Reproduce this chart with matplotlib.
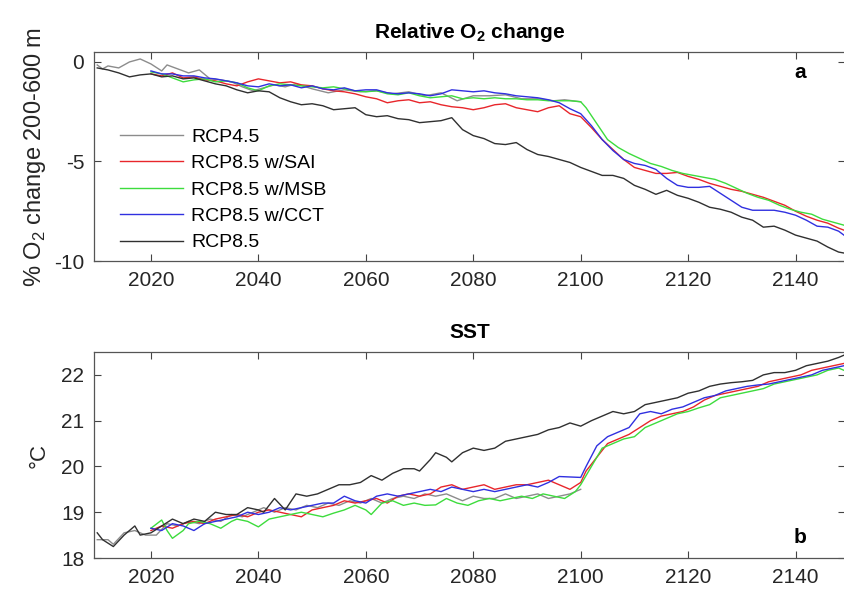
import matplotlib
matplotlib.use('Agg')
import matplotlib.pyplot as plt

plt.rcParams['font.family'] = ['Liberation Sans', 'DejaVu Sans']
plt.rcParams['mathtext.fontset'] = 'custom'
plt.rcParams['mathtext.rm'] = 'Liberation Sans'
plt.rcParams['mathtext.bf'] = 'Liberation Sans:bold'
plt.rcParams['axes.unicode_minus'] = False

# ---- panel a: relative O2 change (%) ----
yr45_o2 = [2010, 2011, 2012, 2014, 2016, 2018, 2020, 2022, 2023, 2025, 2027, 2029, 2031, 2033, 2035, 2037,
           2039, 2041, 2043, 2045, 2047, 2050, 2053, 2056, 2059, 2062, 2065, 2068, 2071, 2074, 2077, 2080,
           2083, 2086, 2089, 2092, 2095, 2097, 2100]
o2_45 = [-0.15, -0.35, -0.2, -0.3, 0.0, 0.15, -0.1, -0.45, -0.15, -0.35, -0.55, -0.4, -0.85, -0.9, -1.0, -1.25,
         -1.45, -1.3, -1.15, -1.25, -1.1, -1.35, -1.55, -1.4, -1.5, -1.45, -1.6, -1.5, -1.7, -1.55, -1.95, -1.7,
         -1.7, -1.65, -1.85, -1.85, -1.95, -1.9, -2.0]

yr85_o2 = [2010, 2012, 2014, 2016, 2018, 2020, 2022, 2024, 2026, 2028, 2030, 2032, 2034, 2036, 2038, 2040,
           2042, 2044, 2046, 2048, 2050, 2052, 2054, 2056, 2058, 2060, 2062, 2064, 2066, 2068, 2070, 2072,
           2074, 2076, 2078, 2080, 2082, 2084, 2086, 2088, 2090, 2092, 2094, 2096, 2098, 2100, 2102, 2104,
           2106, 2108, 2110, 2112, 2114, 2116, 2118, 2120, 2122, 2124, 2126, 2128, 2130, 2132, 2134, 2136,
           2138, 2140, 2142, 2144, 2146, 2148, 2149]
o2_85 = [-0.3, -0.4, -0.55, -0.75, -0.65, -0.6, -0.75, -0.7, -0.85, -0.8, -0.95, -1.1, -1.2, -1.4, -1.55, -1.45,
         -1.5, -1.8, -2.0, -2.15, -2.1, -2.2, -2.4, -2.35, -2.3, -2.65, -2.75, -2.7, -2.85, -2.9, -3.05, -3.0,
         -2.95, -2.8, -3.4, -3.7, -3.85, -4.1, -4.15, -4.05, -4.4, -4.65, -4.75, -4.9, -5.05, -5.3, -5.5, -5.7,
         -5.7, -5.85, -6.2, -6.4, -6.65, -6.45, -6.7, -6.85, -7.05, -7.3, -7.4, -7.55, -7.8, -7.95, -8.3, -8.25,
         -8.45, -8.7, -8.85, -9.0, -9.3, -9.55, -9.6]

yr_sai_o2 = list(range(2020, 2101, 2)) + list(range(2102, 2149, 2)) + [2149]
o2_sai = [-0.6, -0.7, -0.55, -0.8, -0.75, -0.9, -0.95, -1.1, -1.2, -1.0, -0.85, -0.95, -1.05, -1.0, -1.15, -1.2,
          -1.35, -1.45, -1.5, -1.6, -1.75, -1.85, -2.05, -1.95, -1.9, -2.05, -2.0, -2.15, -2.25, -2.3, -2.4, -2.3,
          -2.15, -2.1, -2.3, -2.4, -2.5, -2.3, -2.2, -2.6, -2.75,
          -3.3, -3.9, -4.4, -4.9, -5.3, -5.45, -5.6, -5.6, -5.55, -5.75, -5.9, -6.1, -6.25, -6.4, -6.5, -6.65,
          -6.8, -7.0, -7.2, -7.5, -7.75, -7.95, -8.1, -8.35, -8.45]

yr_msb_o2 = list(range(2020, 2101, 2)) + list(range(2101, 2150, 2))
o2_msb = [-0.5, -0.6, -0.8, -1.0, -0.9, -0.85, -1.0, -0.95, -1.05, -1.3, -1.45, -1.2, -1.1, -1.15, -1.2, -1.25,
          -1.3, -1.25, -1.35, -1.45, -1.5, -1.45, -1.6, -1.65, -1.55, -1.7, -1.8, -1.75, -1.7, -1.85, -1.8, -1.85,
          -1.8, -1.85, -1.85, -1.9, -1.9, -1.95, -1.95, -1.95, -2.0,
          -2.3, -3.1, -3.9, -4.3, -4.6, -4.85, -5.1, -5.25, -5.45, -5.6, -5.7, -5.8, -5.9, -6.1, -6.35, -6.6,
          -6.8, -6.95, -7.2, -7.4, -7.55, -7.65, -7.9, -8.05, -8.2]

yr_cct_o2 = list(range(2020, 2149, 2)) + [2149]
o2_cct = [-0.45, -0.6, -0.6, -0.7, -0.7, -0.8, -0.85, -0.95, -1.05, -1.2, -1.25, -1.1, -1.2, -1.15, -1.3, -1.2,
          -1.35, -1.4, -1.3, -1.45, -1.4, -1.4, -1.55, -1.6, -1.55, -1.6, -1.7, -1.6, -1.4, -1.45, -1.5, -1.45,
          -1.55, -1.6, -1.7, -1.75, -1.8, -1.9, -2.05, -2.35, -2.6, -3.2, -3.9, -4.45, -4.9, -5.1, -5.2, -5.4,
          -5.85, -6.2, -6.3, -6.3, -6.25, -6.6, -6.95, -7.3, -7.45, -7.45, -7.45, -7.55, -7.7, -7.95, -8.25,
          -8.3, -8.5, -8.7]

# ---- panel b: SST (degC) ----
yr45_sst = [2010, 2012, 2013, 2015, 2017, 2019, 2021, 2023, 2025, 2027, 2029, 2031, 2033, 2035, 2037, 2039,
            2041, 2043, 2045, 2047, 2049, 2051, 2053, 2055, 2057, 2059, 2061, 2063, 2065, 2067, 2069, 2071,
            2073, 2075, 2077, 2078, 2080, 2082, 2084, 2086, 2088, 2090, 2092, 2094, 2096, 2098, 2100]
sst_45 = [18.4, 18.4, 18.3, 18.55, 18.6, 18.5, 18.5, 18.75, 18.7, 18.8, 18.75, 18.85, 18.8, 18.95, 18.9, 19.0,
          19.1, 19.0, 19.1, 19.05, 19.15, 19.1, 19.2, 19.15, 19.25, 19.2, 19.3, 19.2, 19.3, 19.35, 19.3, 19.4,
          19.35, 19.4, 19.3, 19.25, 19.35, 19.3, 19.3, 19.4, 19.3, 19.35, 19.4, 19.3, 19.35, 19.4, 19.5]

yr85_sst = [2010, 2011, 2013, 2015, 2017, 2018, 2020, 2022, 2024, 2026, 2028, 2030, 2032, 2034, 2036, 2038,
            2040, 2041, 2043, 2045, 2047, 2049, 2051, 2053, 2055, 2057, 2059, 2061, 2063, 2065, 2067, 2069,
            2070, 2072, 2073, 2075, 2076, 2078, 2080, 2082, 2084, 2086, 2088, 2090, 2092, 2094, 2096, 2098,
            2100, 2102, 2104, 2106, 2108, 2110, 2112, 2114, 2116, 2118, 2120, 2122, 2124, 2126, 2128, 2130,
            2132, 2134, 2136, 2138, 2140, 2142, 2144, 2146, 2148, 2149]
sst_85 = [18.55, 18.4, 18.25, 18.5, 18.7, 18.5, 18.55, 18.7, 18.85, 18.75, 18.85, 18.8, 19.0, 18.95, 18.95, 19.1,
          19.05, 19.0, 19.3, 19.05, 19.4, 19.35, 19.4, 19.5, 19.6, 19.6, 19.65, 19.8, 19.7, 19.85, 19.95, 19.95,
          19.9, 20.15, 20.3, 20.2, 20.1, 20.3, 20.4, 20.35, 20.4, 20.55, 20.6, 20.65, 20.7, 20.8, 20.85, 20.95,
          20.88, 21.0, 21.1, 21.2, 21.15, 21.2, 21.35, 21.4, 21.45, 21.5, 21.6, 21.65, 21.75, 21.8, 21.83, 21.85,
          21.88, 22.0, 22.05, 22.05, 22.1, 22.2, 22.25, 22.3, 22.38, 22.43]

yr_sai_sst = list(range(2020, 2101, 2)) + list(range(2101, 2150, 2))
sst_sai = [18.6, 18.7, 18.65, 18.75, 18.8, 18.75, 18.85, 18.9, 18.95, 18.9, 19.0, 19.05, 19.0, 18.95, 18.9, 19.05,
           19.1, 19.15, 19.25, 19.2, 19.25, 19.3, 19.2, 19.35, 19.4, 19.35, 19.4, 19.55, 19.6, 19.5, 19.55, 19.6,
           19.5, 19.55, 19.6, 19.6, 19.65, 19.7, 19.6, 19.5, 19.65,
           19.9, 20.2, 20.5, 20.6, 20.7, 20.85, 21.0, 21.1, 21.15, 21.2, 21.3, 21.45, 21.55, 21.6, 21.65, 21.7,
           21.75, 21.85, 21.9, 21.95, 22.0, 22.1, 22.15, 22.2, 22.25]

yr_msb_sst = [2020, 2022, 2023, 2024, 2026, 2027, 2029, 2031, 2033, 2035, 2036, 2038, 2040, 2042, 2044, 2046,
              2048, 2050, 2052, 2054, 2056, 2058, 2060, 2061, 2063, 2065, 2067, 2069, 2071, 2073, 2075, 2077,
              2079, 2081, 2083, 2085, 2087, 2089, 2091, 2093, 2095, 2097, 2099, 2100, 2102, 2104, 2106, 2108,
              2110, 2112, 2114, 2116, 2118, 2120, 2122, 2124, 2126, 2128, 2130, 2132, 2134, 2136, 2138, 2140,
              2142, 2144, 2146, 2148, 2149]
sst_msb = [18.65, 18.83, 18.6, 18.43, 18.6, 18.75, 18.8, 18.75, 18.65, 18.8, 18.85, 18.8, 18.68, 18.85, 18.9, 18.95,
           19.0, 18.95, 18.9, 18.98, 19.05, 19.15, 19.05, 18.95, 19.2, 19.25, 19.15, 19.2, 19.15, 19.16, 19.3, 19.2,
           19.15, 19.25, 19.3, 19.25, 19.3, 19.35, 19.3, 19.4, 19.35, 19.3, 19.45, 19.6, 20.0, 20.4, 20.5, 20.6,
           20.65, 20.85, 20.95, 21.05, 21.15, 21.2, 21.28, 21.35, 21.5, 21.55, 21.6, 21.65, 21.7, 21.8, 21.85, 21.9,
           21.95, 22.0, 22.1, 22.15, 22.1]

yr_cct_sst = list(range(2020, 2101, 2)) + list(range(2101, 2150, 2))
sst_cct = [18.65, 18.6, 18.75, 18.7, 18.6, 18.75, 18.8, 18.85, 18.9, 19.0, 18.95, 19.0, 19.1, 19.05, 19.1, 19.15,
           19.2, 19.2, 19.35, 19.25, 19.2, 19.35, 19.4, 19.35, 19.4, 19.45, 19.5, 19.45, 19.55, 19.5, 19.45, 19.5,
           19.45, 19.5, 19.55, 19.6, 19.55, 19.65, 19.78, 19.77, 19.76,
           20.0, 20.45, 20.65, 20.75, 20.85, 21.15, 21.2, 21.15, 21.25, 21.3, 21.4, 21.5, 21.55, 21.65, 21.7, 21.75,
           21.78, 21.8, 21.85, 21.9, 21.95, 22.0, 22.1, 22.15, 22.2]

labels = ['RCP4.5', 'RCP8.5 w/SAI', 'RCP8.5 w/MSB', 'RCP8.5 w/CCT', 'RCP8.5']
colors = ['#8c8c8c', '#e8262b', '#3ddc3d', '#3030e0', '#303030']

fig = plt.figure(figsize=(8.45, 5.93), dpi=100)
ax1 = fig.add_axes([94 / 845, 1 - 261 / 593, 1 - 94 / 845, 209 / 593])
ax2 = fig.add_axes([94 / 845, 1 - 558 / 593, 1 - 94 / 845, 206 / 593])

top = [(yr45_o2, o2_45), (yr_sai_o2, o2_sai), (yr_msb_o2, o2_msb), (yr_cct_o2, o2_cct), (yr85_o2, o2_85)]
bot = [(yr45_sst, sst_45), (yr_sai_sst, sst_sai), (yr_msb_sst, sst_msb), (yr_cct_sst, sst_cct), (yr85_sst, sst_85)]

for (xs, ys), c, lab in zip(top, colors, labels):
    ax1.plot(xs, ys, color=c, linewidth=1.0, label=lab)
for (xs, ys), c in zip(bot, colors):
    ax2.plot(xs, ys, color=c, linewidth=1.0)

for ax in (ax1, ax2):
    ax.set_xlim(2009.4, 2149.2)
    ax.set_xticks([2020, 2040, 2060, 2080, 2100, 2120, 2140])
    ax.tick_params(direction='in', length=5, width=0.8, color='#444444', labelsize=15,
                   labelcolor='#262626', top=True, right=True, pad=7)
    for s in ax.spines.values():
        s.set_color('#555555')
        s.set_linewidth(0.9)

ax1.set_ylim(-10, 0.5)
ax1.set_yticks([-10, -5, 0])
ax2.set_ylim(18, 22.5)
ax2.set_yticks([18, 19, 20, 21, 22])

ax1.set_title(r'Relative O$_\mathbf{2}$ change', fontsize=15, fontweight='bold', pad=10)
ax2.set_title('SST', fontsize=15, fontweight='bold', pad=10)
ax1.set_ylabel(r'% O$_2$ change 200-600 m', fontsize=17, color='#262626', labelpad=4)
ax2.set_ylabel('°C', fontsize=16, color='#262626', labelpad=8)

ax1.text(0.94, 0.9, 'a', transform=ax1.transAxes, fontsize=15, fontweight='bold', ha='center', va='center')
ax2.text(0.94, 0.10, 'b', transform=ax2.transAxes, fontsize=15, fontweight='bold', ha='center', va='center')

ax1.legend(loc='upper left', bbox_to_anchor=(0.017, 0.70), frameon=False, fontsize=14,
           handlelength=3.2, handletextpad=0.45, labelspacing=0.45, borderaxespad=0.3)

fig.savefig('out.png', dpi=100)
